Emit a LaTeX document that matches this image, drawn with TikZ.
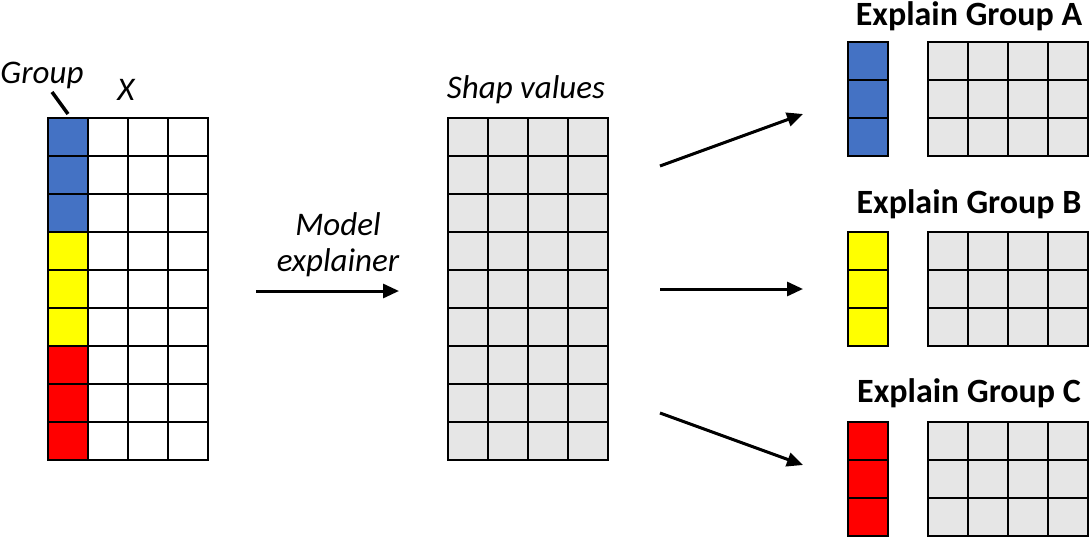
\documentclass[tikz,border=0pt]{standalone}
\usepackage{fontspec}
\setmainfont{Carlito}
\usetikzlibrary{arrows.meta}
\definecolor{gblue}{HTML}{4472C4}
\definecolor{gyellow}{HTML}{FFFF00}
\definecolor{gred}{HTML}{FF0000}
\definecolor{ggray}{HTML}{E6E6E6}
\tikzset{
  cell/.style={draw=black, line width=1.2pt},
  arr/.style={-{Triangle[length=16pt,width=14pt]}, line width=3pt},
  title/.style={font=\fontsize{34}{38}\selectfont\bfseries, inner sep=0pt},
  lab/.style={font=\fontsize{33}{36}\selectfont\itshape, inner sep=0pt, align=center},
}
\begin{document}
\begin{tikzpicture}[x=1pt,y=-1pt]
\useasboundingbox (0,0) rectangle (1090,538);
% left grid X
\foreach \r in {0,...,8}{
  \foreach \c in {1,2,3}{
    \draw[cell, fill=white] (48+40*\c,118+38*\r) rectangle ++(40,38);
  }
}
\foreach \r/\col in {0/gblue,1/gblue,2/gblue,3/gyellow,4/gyellow,5/gyellow,6/gred,7/gred,8/gred}{
  \draw[cell, fill=\col] (48,118+38*\r) rectangle ++(40,38);
}
% shap grid
\foreach \r in {0,...,8}{
  \foreach \c in {0,...,3}{
    \draw[cell, fill=ggray] (448+40*\c,118+38*\r) rectangle ++(40,38);
  }
}
% right groups
\foreach \y/\col in {42/gblue,232/gyellow,422/gred}{
  \foreach \r in {0,1,2}{
    \draw[cell, fill=\col] (848,\y+38*\r) rectangle ++(40,38);
    \foreach \c in {0,...,3}{
      \draw[cell, fill=ggray] (928+40*\c,\y+38*\r) rectangle ++(40,38);
    }
  }
}
% labels
\node[lab] (group) at (42,75) {Group};
\node[lab] (xlab) at (126,90) {X};
\coordinate (gs) at (52,92);
\coordinate (ge) at (68,114);
\draw[line width=3.5pt] (gs) -- (ge);
\node[lab] (model) at (338,245) {Model\\explainer};
\node[lab] (shap) at (526,90) {Shap values};
\node[title] (ta) at (969,16) {Explain Group A};
\node[title] (tb) at (969,204) {Explain Group B};
\node[title] (tc) at (969,393) {Explain Group C};
% arrows
\coordinate (m1) at (256,291);
\coordinate (m2) at (399,291);
\draw[arr] (m1) -- (m2);
\coordinate (a1) at (660,166);
\coordinate (a2) at (803,114);
\draw[arr] (a1) -- (a2);
\coordinate (b1) at (660,289);
\coordinate (b2) at (803,289);
\draw[arr] (b1) -- (b2);
\coordinate (c1) at (660,413);
\coordinate (c2) at (803,465);
\draw[arr] (c1) -- (c2);
\end{tikzpicture}
\end{document}
